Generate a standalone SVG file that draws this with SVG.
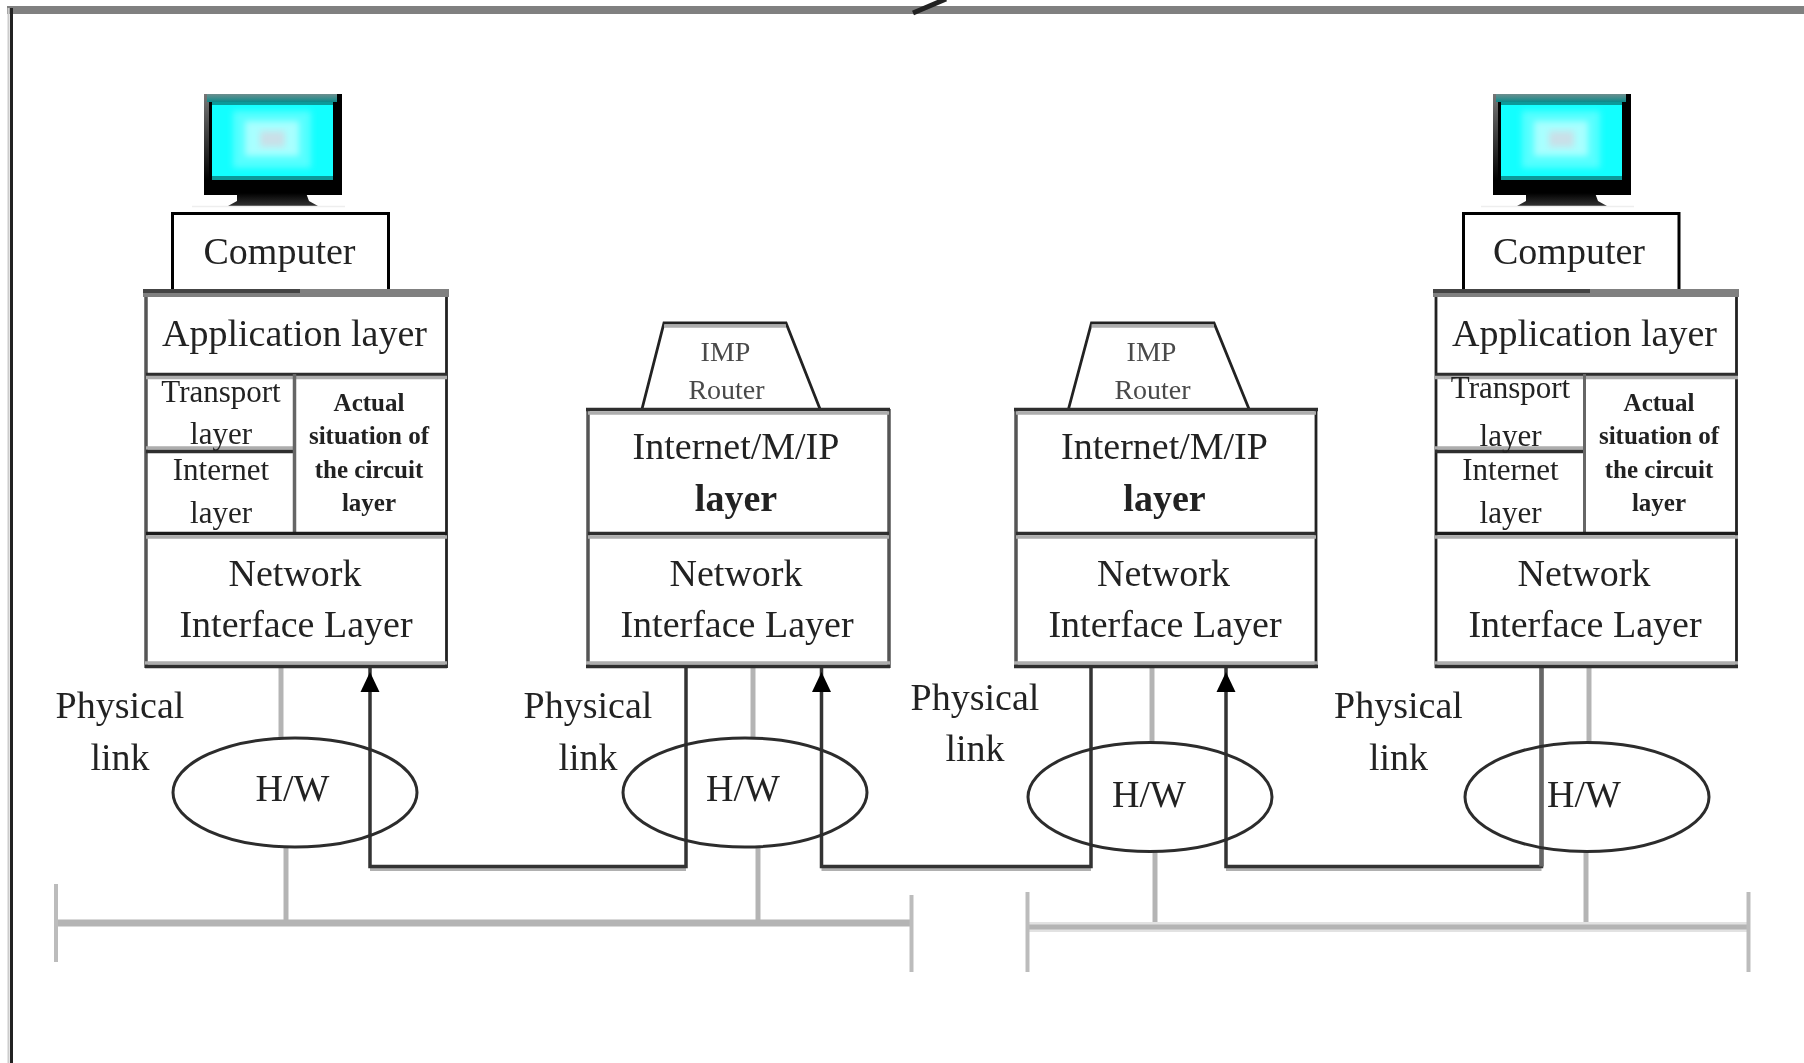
<svg xmlns="http://www.w3.org/2000/svg" xmlns:xlink="http://www.w3.org/1999/xlink" width="1804" height="1063" viewBox="0 0 1804 1063">
<style>
text{font-family:"Liberation Serif","Times New Roman",serif;fill:#222;text-anchor:middle;filter:url(#soft)}
.t38{font-size:38px}.t31{font-size:31px}.t28{font-size:28px;fill:#4a4a4a}.b25{font-size:25px;font-weight:700}.b38{font-size:38px;font-weight:700}
line,path,ellipse{fill:none}
.dk{stroke:#2e2e2e;stroke-width:3.5}.gy{stroke:#adadad;stroke-width:3.5}.md{stroke:#808080;stroke-width:8}
.el{stroke:#2c2c2c;stroke-width:3}
.ed{stroke:#555;stroke-width:3.5}.er{stroke:#222;stroke-width:2.8}
.cn{stroke:#333;stroke-width:3.5}.bus{stroke:#b4b4b4;stroke-width:7}.stem{stroke:#b4b4b4;stroke-width:5}.tick{stroke:#bcbcbc;stroke-width:4}
.arrow{fill:#000;stroke:none}
</style>
<defs>
<filter id="soft" x="-10%" y="-20%" width="120%" height="140%"><feGaussianBlur stdDeviation="0.7"/></filter>
<filter id="glow" x="-20%" y="-20%" width="140%" height="140%"><feGaussianBlur stdDeviation="3"/></filter>
<linearGradient id="bez" x1="0" y1="0" x2="0" y2="1"><stop offset="0" stop-color="#6f8f8f"/><stop offset="1" stop-color="#0b8a8a"/></linearGradient>
<linearGradient id="side" x1="0" y1="0" x2="0" y2="1"><stop offset="0" stop-color="#777"/><stop offset="1" stop-color="#000"/></linearGradient>
<linearGradient id="neck" x1="0" y1="0" x2="0" y2="1"><stop offset="0" stop-color="#000"/><stop offset="1" stop-color="#333"/></linearGradient>
<g id="monitor">
<rect x="204" y="94" width="138" height="101" fill="#000"/>
<rect x="204" y="94" width="5" height="86" fill="url(#side)"/>
<rect x="207" y="94" width="130" height="8" fill="url(#bez)"/>
<rect x="212" y="102" width="121" height="78" fill="#12ffff"/>
<rect x="212" y="102" width="121" height="3" fill="#0b9a9a"/>
<rect x="212" y="176" width="121" height="4" fill="#0b9a9a"/>
<rect x="233" y="111" width="78" height="57" fill="#55ffff" filter="url(#glow)"/>
<rect x="245" y="121" width="54" height="35" fill="#a8ffff" filter="url(#glow)"/>
<rect x="260" y="131" width="25" height="16" fill="#c9e0e8" filter="url(#glow)"/>
<path d="M237 193H306L309 201L318 206H228L237 201Z" style="fill:url(#neck)"/>
<line x1="192" y1="206.500" x2="345" y2="206.500" stroke="#eee" stroke-width="1.500"/>
</g>
</defs>
<rect width="1804" height="1063" fill="#fff"/>
<g id="frame">
<line x1="7" y1="10" x2="1804" y2="10" class="md"/>
<line x1="11.500" y1="8" x2="11.500" y2="1063" stroke="#222" stroke-width="3"/>
<line x1="8.500" y1="8" x2="8.500" y2="1063" stroke="#ccc" stroke-width="2"/>
<line x1="913" y1="13" x2="946" y2="-1" stroke="#222" stroke-width="5"/>
</g>
<g id="connectors">
<line x1="281" y1="668" x2="281" y2="738" class="stem"/>
<line x1="286" y1="847" x2="286" y2="923" class="stem"/>
<line x1="753" y1="668" x2="753" y2="738" class="stem"/>
<line x1="758" y1="847" x2="758" y2="923" class="stem"/>
<line x1="1152" y1="668" x2="1152" y2="743" class="stem"/>
<line x1="1155" y1="852" x2="1155" y2="927" class="stem"/>
<line x1="1589" y1="668" x2="1589" y2="743" class="stem"/>
<line x1="1586" y1="852" x2="1586" y2="927" class="stem"/>
<line x1="55" y1="923" x2="912" y2="923" class="bus"/>
<line x1="56" y1="884" x2="56" y2="962" class="tick"/>
<line x1="911.500" y1="895" x2="911.500" y2="972" class="tick"/>
<line x1="1027" y1="927" x2="1749" y2="927" stroke="#e2e2e2" stroke-width="10"/>
<line x1="1027" y1="927" x2="1749" y2="927" class="stem"/>
<line x1="1027.500" y1="892" x2="1027.500" y2="972" class="tick"/>
<line x1="1748.500" y1="892" x2="1748.500" y2="972" class="tick"/>
<g id="link1">
<path d="M370 869.500H686" stroke="#b0b0b0" stroke-width="3"/>
<path d="M370 668V866.500H686V666" class="cn"/>
<path d="M370 672L379.500 692H360.500Z" class="arrow"/>
</g>
<g id="link2">
<path d="M821.500 869.500H1091" stroke="#b0b0b0" stroke-width="3"/>
<path d="M821.500 668V866.500H1091V666" class="cn"/>
<path d="M821.500 672L831 692H812Z" class="arrow"/>
</g>
<g id="link3">
<path d="M1226 869.500H1541.500" stroke="#b0b0b0" stroke-width="3"/>
<path d="M1226 668V866.500H1541.500V666" class="cn"/>
<path d="M1541.500 666V866.500" stroke="#666" stroke-width="4.500"/>
<path d="M1226 672L1235.500 692H1216.500Z" class="arrow"/>
</g>
</g>
<g id="host-left">
<use href="#monitor" xlink:href="#monitor"/>
<path d="M172.500 292V213.500H388.500V292" stroke="#000" stroke-width="3" fill="none"/>
<text x="279.500" y="264" class="t38">Computer</text>
<line x1="146" y1="293" x2="146" y2="668" class="ed"/>
<line x1="446.500" y1="293" x2="446.500" y2="668" class="er"/>
<line x1="143" y1="293" x2="449" y2="293" class="md"/>
<line x1="143" y1="291" x2="300" y2="291" stroke="#444" stroke-width="4"/>
<line x1="146" y1="374.500" x2="447" y2="374.500" class="dk"/>
<line x1="146" y1="377.500" x2="447" y2="377.500" class="gy"/>
<line x1="146" y1="448" x2="294" y2="448" class="gy"/>
<line x1="146" y1="451.500" x2="294" y2="451.500" class="dk"/>
<line x1="294.500" y1="374" x2="294.500" y2="534" stroke="#666" stroke-width="3.500"/>
<line x1="146" y1="533.500" x2="447" y2="533.500" stroke="#1c1c1c" stroke-width="3.500"/>
<line x1="146" y1="537" x2="447" y2="537" class="gy"/>
<line x1="145" y1="663" x2="447" y2="663" class="gy"/>
<line x1="145" y1="666.500" x2="447" y2="666.500" class="dk"/>
<text x="294.500" y="346" class="t38">Application layer</text>
<text x="221" y="402" class="t31">Transport</text>
<text x="221" y="444" class="t31">layer</text>
<text x="221" y="480" class="t31">Internet</text>
<text x="221" y="522.500" class="t31">layer</text>
<text x="369" y="411" class="b25">Actual</text>
<text x="369" y="444" class="b25">situation of</text>
<text x="369" y="478" class="b25">the circuit</text>
<text x="369" y="511" class="b25">layer</text>
<text x="295" y="586" class="t38">Network</text>
<text x="296" y="637" class="t38">Interface Layer</text>
</g>
<g id="router-1">
<path d="M642 409L664 323H786L820 409" stroke="#222" stroke-width="2.800" fill="none"/>
<line x1="664" y1="326" x2="786" y2="326" class="gy"/>
<text x="725.500" y="360.500" class="t28">IMP</text>
<text x="726.500" y="398.500" class="t28">Router</text>
<line x1="588" y1="409" x2="588" y2="668" class="ed"/>
<line x1="889" y1="409" x2="889" y2="668" class="ed"/>
<line x1="586" y1="409.500" x2="890" y2="409.500" class="dk"/>
<line x1="588" y1="413" x2="889" y2="413" class="gy"/>
<line x1="588" y1="533.500" x2="889" y2="533.500" class="dk"/>
<line x1="588" y1="537" x2="889" y2="537" class="gy"/>
<line x1="586" y1="663" x2="890" y2="663" class="gy"/>
<line x1="586" y1="666.500" x2="890" y2="666.500" class="dk"/>
<text x="736" y="459" class="t38">Internet/M/IP</text>
<text x="736" y="510.500" class="b38">layer</text>
<text x="736" y="586" class="t38">Network</text>
<text x="737" y="637" class="t38">Interface Layer</text>
</g>
<g id="router-2">
<path d="M1068.500 409L1091.500 323H1214L1249 409" stroke="#222" stroke-width="2.800" fill="none"/>
<line x1="1091.500" y1="326" x2="1214" y2="326" class="gy"/>
<text x="1151.500" y="360.500" class="t28">IMP</text>
<text x="1152.500" y="398.500" class="t28">Router</text>
<line x1="1016" y1="409" x2="1016" y2="668" class="ed"/>
<line x1="1316" y1="409" x2="1316" y2="668" class="er"/>
<line x1="1014" y1="409.500" x2="1318" y2="409.500" class="dk"/>
<line x1="1016" y1="413" x2="1316" y2="413" class="gy"/>
<line x1="1016" y1="533.500" x2="1316" y2="533.500" class="dk"/>
<line x1="1016" y1="537" x2="1316" y2="537" class="gy"/>
<line x1="1014" y1="663" x2="1318" y2="663" class="gy"/>
<line x1="1014" y1="666.500" x2="1318" y2="666.500" class="dk"/>
<text x="1164.500" y="459" class="t38">Internet/M/IP</text>
<text x="1164.500" y="510.500" class="b38">layer</text>
<text x="1163.500" y="586" class="t38">Network</text>
<text x="1165" y="637" class="t38">Interface Layer</text>
</g>
<g id="host-right">
<use href="#monitor" xlink:href="#monitor" x="1289"/>
<path d="M1463.500 292V213.500H1679V292" stroke="#000" stroke-width="3" fill="none"/>
<text x="1569" y="264" class="t38">Computer</text>
<line x1="1436" y1="293" x2="1436" y2="668" class="er"/>
<line x1="1736.500" y1="293" x2="1736.500" y2="668" class="er"/>
<line x1="1433" y1="293" x2="1739" y2="293" class="md"/>
<line x1="1433" y1="291" x2="1590" y2="291" stroke="#444" stroke-width="4"/>
<line x1="1435" y1="374.500" x2="1738" y2="374.500" class="dk"/>
<line x1="1435" y1="377.500" x2="1738" y2="377.500" class="gy"/>
<line x1="1435" y1="448" x2="1584" y2="448" class="gy"/>
<line x1="1435" y1="451.500" x2="1584" y2="451.500" class="dk"/>
<line x1="1584.500" y1="374" x2="1584.500" y2="534" stroke="#666" stroke-width="3"/>
<line x1="1435" y1="533.500" x2="1738" y2="533.500" stroke="#1c1c1c" stroke-width="3.500"/>
<line x1="1435" y1="537" x2="1738" y2="537" class="gy"/>
<line x1="1435" y1="663" x2="1738" y2="663" class="gy"/>
<line x1="1435" y1="666.500" x2="1738" y2="666.500" class="dk"/>
<text x="1584.500" y="346" class="t38">Application layer</text>
<text x="1510.500" y="398" class="t31">Transport</text>
<text x="1510.500" y="446" class="t31">layer</text>
<text x="1510.500" y="480" class="t31">Internet</text>
<text x="1510.500" y="523" class="t31">layer</text>
<text x="1659" y="411" class="b25">Actual</text>
<text x="1659" y="444" class="b25">situation of</text>
<text x="1659" y="478" class="b25">the circuit</text>
<text x="1659" y="511" class="b25">layer</text>
<text x="1584" y="586" class="t38">Network</text>
<text x="1585" y="637" class="t38">Interface Layer</text>
</g>
<g id="hw-1"><ellipse cx="295" cy="792.500" rx="122" ry="54.500" class="el"/><text x="292.500" y="801" class="t38">H/W</text></g>
<g id="hw-2"><ellipse cx="745" cy="792.500" rx="122" ry="54.500" class="el"/><text x="743" y="801" class="t38">H/W</text></g>
<g id="hw-3"><ellipse cx="1150" cy="797" rx="122" ry="54.500" class="el"/><text x="1149" y="806.500" class="t38">H/W</text></g>
<g id="hw-4"><ellipse cx="1587" cy="797" rx="122" ry="54.500" class="el"/><text x="1584" y="806.500" class="t38">H/W</text></g>
<g id="labels">
<text x="120" y="718" class="t38">Physical</text><text x="120" y="770" class="t38">link</text>
<text x="588" y="718" class="t38">Physical</text><text x="588" y="770" class="t38">link</text>
<text x="975" y="710" class="t38">Physical</text><text x="975" y="761" class="t38">link</text>
<text x="1398.500" y="718" class="t38">Physical</text><text x="1398.500" y="770" class="t38">link</text>
</g>
</svg>
